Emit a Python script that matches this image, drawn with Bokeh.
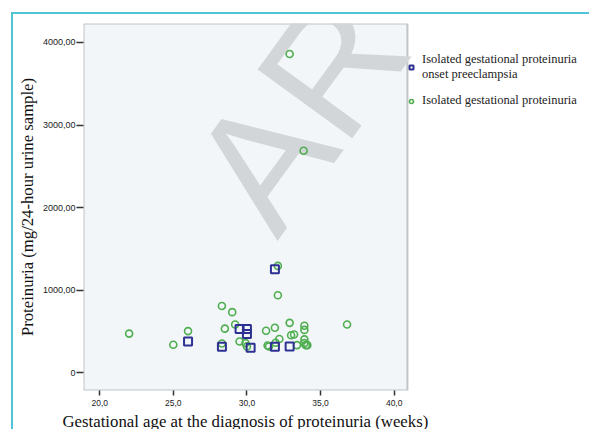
from bokeh.plotting import figure
from bokeh.models import (Range1d, FixedTicker, Legend, LegendItem, Label,
                          ColumnDataSource, BoxAnnotation, Title)
from bokeh.embed import file_html
from bokeh.resources import INLINE

# Isolated gestational proteinuria -> onset preeclampsia (blue squares)
pe_weeks = [26.0, 28.3, 29.5, 30.0, 30.0, 30.25, 31.9, 31.9, 32.9]
pe_prot = [380, 315, 530, 530, 470, 305, 1255, 315, 318]

# Isolated gestational proteinuria (green circles)
gp_weeks = [22.0, 25.0, 26.0, 28.3, 28.3, 28.5, 29.0, 29.2, 29.5, 29.9,
            30.0, 31.3, 31.4, 31.5, 31.9, 31.95, 32.1, 32.1, 32.2, 32.9,
            33.0, 33.2, 33.4, 33.9, 33.9, 33.9, 33.9, 34.0, 34.1, 36.8,
            32.9, 33.85]
gp_prot = [475, 340, 505, 810, 355, 535, 735, 585, 380, 360,
           320, 510, 330, 320, 545, 365, 1295, 940, 410, 605,
           455, 465, 335, 570, 520, 405, 360, 335, 335, 585,
           3860, 2690]

series_labels = ["Isolated gestational proteinuria\nonset preeclampsia",
                 "Isolated gestational proteinuria"]

x_ticks = [20, 25, 30, 35, 40]
x_tick_labels = ["20,0", "25,0", "30,0", "35,0", "40,0"]
y_ticks = [0, 1000, 2000, 3000, 4000]
y_tick_labels = ["0", "1000,00", "2000,00", "3000,00", "4000,00"]

x_title = "Gestational age at the diagnosis of proteinuria (weeks)"
y_title = "Proteinuria (mg/24-hour urine sample)"
watermark = "AR"

# axis extents of the drawn plot box; the canvas frame continues to the right
# to hold the legend
x_min, x_max = 18.9, 40.9
y_min, y_max = -214, 4230
x_canvas_end = 53.4

p = figure(width=578, height=417, output_backend="svg", toolbar_location=None,
           x_range=Range1d(x_min, x_canvas_end), y_range=Range1d(y_min, y_max),
           min_border_left=70, min_border_right=0, min_border_top=9,
           min_border_bottom=41)
p.margin = (12, 0, 0, 11)
p.styles = {"border-left": "2px solid #50c3d7", "border-top": "2px solid #50c3d7"}

p.background_fill_color = "white"
p.border_fill_color = "white"
p.outline_line_color = None
p.grid.visible = False

plot_box = BoxAnnotation(right=x_max, fill_color="#f2f6f9", fill_alpha=1.0,
                         line_color="#4a4a4a", line_width=2, level="underlay")
p.add_layout(plot_box)

wm = Label(x=146, y=184, x_units="screen", y_units="screen", text=watermark,
           angle=54, angle_units="deg", text_font="Liberation Sans",
           text_font_size="170px", text_color="#d3d6d9", text_alpha=1.0,
           text_baseline="alphabetic", text_align="left", level="underlay")
p.add_layout(wm)

src_pe = ColumnDataSource(dict(x=pe_weeks, y=pe_prot))
src_gp = ColumnDataSource(dict(x=gp_weeks, y=gp_prot))

r_gp = p.scatter("x", "y", source=src_gp, marker="circle", size=7,
                 line_color="#4fae4f", line_width=1.6, fill_alpha=0)
r_pe = p.scatter("x", "y", source=src_pe, marker="square", size=8,
                 line_color="#2e3192", line_width=2, fill_alpha=0)

# axes
p.xaxis.ticker = FixedTicker(ticks=x_ticks)
p.xaxis.major_label_overrides = {t: l for t, l in zip(x_ticks, x_tick_labels)}
p.yaxis.ticker = FixedTicker(ticks=y_ticks)
p.yaxis.major_label_overrides = {t: l for t, l in zip(y_ticks, y_tick_labels)}
for ax in (p.xaxis, p.yaxis):
    ax.axis_line_color = None
    ax.minor_tick_line_color = None
    ax.major_tick_in = 0
    ax.major_tick_line_color = "#333333"
    ax.major_tick_line_width = 1.5
    ax.major_label_text_font = "Liberation Sans"
    ax.major_label_text_color = "#222222"

p.xaxis.major_tick_out = 5
p.xaxis.major_label_standoff = 4
p.xaxis.major_label_text_font_size = "8.5px"

p.yaxis.major_tick_out = 7
p.yaxis.major_label_standoff = 1
p.yaxis.major_label_text_font_size = "9px"
p.yaxis.axis_label = y_title
p.yaxis.axis_label_standoff = 3
p.yaxis.axis_label_text_font = "Liberation Serif"
p.yaxis.axis_label_text_font_style = "normal"
p.yaxis.axis_label_text_color = "#111111"
p.yaxis.axis_label_text_font_size = "16.7px"

xt = Title(text=x_title, align="left", offset=-21, standoff=2,
           text_font="Liberation Serif", text_font_style="normal",
           text_font_size="16.8px", text_color="#111111")
p.add_layout(xt, "below")

legend = Legend(items=[LegendItem(label=series_labels[0], renderers=[r_pe]),
                       LegendItem(label=series_labels[1], renderers=[r_gp])],
                location=(323, 282))
legend.padding = 0
legend.margin = 0
legend.spacing = 11
legend.glyph_width = 10
legend.glyph_height = 12
legend.label_standoff = 6
legend.label_text_font = "Liberation Serif"
legend.label_text_font_size = "12.5px"
legend.label_text_line_height = 1.3
legend.label_text_color = "#222222"
legend.border_line_color = None
legend.background_fill_alpha = 0
p.add_layout(legend)

open("out.html", "w").write(file_html(p, INLINE))
